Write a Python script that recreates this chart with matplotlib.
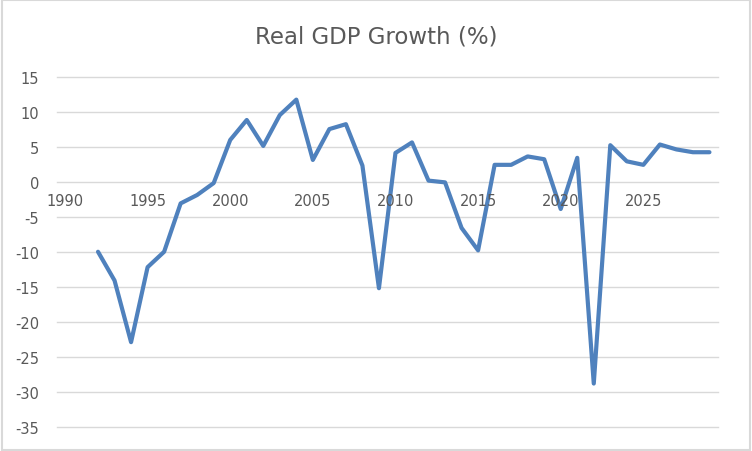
import matplotlib.pyplot as plt
from matplotlib.patches import Rectangle

years = list(range(1992, 2030))
growth = [-10.0, -14.1, -22.9, -12.2, -10.0, -3.1, -1.9, -0.2, 5.95, 8.8,
          5.1, 9.5, 11.7, 3.1, 7.5, 8.2, 2.3, -15.2, 4.1, 5.6,
          0.15, -0.1, -6.6, -9.8, 2.4, 2.4, 3.6, 3.2, -3.9, 3.4,
          -28.8, 5.2, 2.9, 2.4, 5.3, 4.6, 4.2, 4.2]
x_ticks = [1990, 1995, 2000, 2005, 2010, 2015, 2020, 2025]
y_ticks = [15, 10, 5, 0, -5, -10, -15, -20, -25, -30, -35]

plt.rcParams['font.family'] = ['DejaVu Sans']

fig = plt.figure(figsize=(7.52, 4.52), dpi=100)
ax = fig.add_axes([0.0754, 0.0531, 0.879, 0.7754])

# grey border round the whole chart area
fig.patches.append(Rectangle((0.002, 0.003), 0.996, 0.994, transform=fig.transFigure,
                             fill=False, edgecolor='#d9d9d9', linewidth=1.5))

for y in y_ticks:
    ax.axhline(y, color='#d9d9d9', linewidth=1.0, zorder=1, clip_on=False)

ax.plot(years, growth, color='#4f81bd', linewidth=3.0, solid_joinstyle='round',
        solid_capstyle='round', zorder=3)

ax.set_xlim(1989.5, 2029.5)
ax.set_ylim(-35, 15)

ax.set_yticks(y_ticks)
ax.set_yticklabels([str(v) for v in y_ticks])
ax.tick_params(axis='y', length=0, pad=12.5, labelsize=10.5, labelcolor='#595959')
ax.set_xticks([])

# x labels sit just below the zero line, like Excel when the axis crosses at 0
for yr in x_ticks:
    ax.text(yr, -1.6, str(yr), ha='center', va='top', fontsize=10.5, color='#595959')

for side in ax.spines.values():
    side.set_visible(False)

fig.text(0.5, 0.918, 'Real GDP Growth (%)', ha='center', va='center',
         fontsize=16.5, color='#595959')

plt.savefig('out.png', dpi=100)
